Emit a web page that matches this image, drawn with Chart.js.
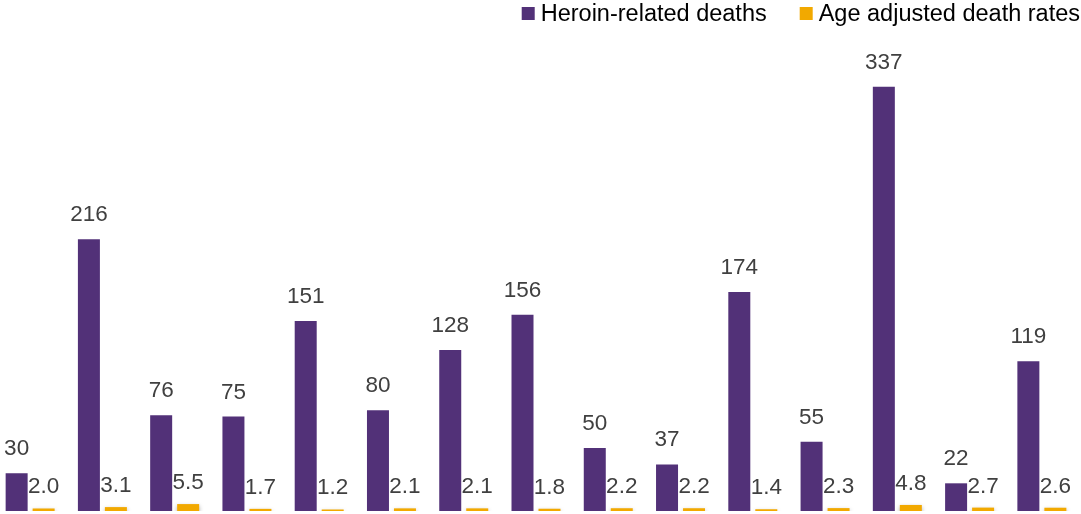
<!DOCTYPE html>
<html>
<head>
<meta charset="utf-8">
<script src="https://cdn.jsdelivr.net/npm/chart.js@4/dist/chart.umd.min.js"></script>
<style>
  html, body { margin: 0; padding: 0; background: #fff; overflow: hidden; }
  #wrap { position: absolute; left: -6px; top: 0; width: 1087px; height: 514px; }
</style>
</head>
<body>
<div id="wrap"><canvas id="chart"></canvas></div>
<script>
// One slot per county / region
const categories = ['', '', '', '', '', '', '', '', '', '', '', '', '', '', ''];
const heroinDeaths = [30, 216, 76, 75, 151, 80, 128, 156, 50, 37, 174, 55, 337, 22, 119];
const deathRates = [2.0, 3.1, 5.5, 1.7, 1.2, 2.1, 2.1, 1.8, 2.2, 2.2, 1.4, 2.3, 4.8, 2.7, 2.6];

const PURPLE = '#523178';
const GOLD = '#F2A900';
const LABEL = '#404040';
const FONT = '"Liberation Sans", Arial, sans-serif';

// Value labels above every bar
const valueLabels = {
  id: 'valueLabels',
  afterDatasetsDraw(chart) {
    const ctx = chart.ctx;
    ctx.save();
    ctx.font = '22.5px ' + FONT;
    ctx.fillStyle = LABEL;
    ctx.textAlign = 'center';
    ctx.textBaseline = 'alphabetic';
    chart.data.datasets.forEach((ds, di) => {
      const meta = chart.getDatasetMeta(di);
      meta.data.forEach((bar, i) => {
        const v = ds.data[i];
        const txt = di === 1 ? v.toFixed(1) : String(v);
        const gap = di === 1 ? 15 : 18;
        ctx.fillText(txt, bar.x, bar.y - gap);
      });
    });
    ctx.restore();
  }
};

// Legend in the top right corner: square swatch followed by the series name
const cornerLegend = {
  id: 'cornerLegend',
  afterDraw(chart) {
    const ctx = chart.ctx;
    ctx.save();
    ctx.font = '23.5px ' + FONT;
    ctx.textBaseline = 'alphabetic';
    ctx.textAlign = 'left';
    const right = chart.width - 1;
    const box = 13, boxGap = 6, itemGap = 33, baseline = 21, boxTop = 7;
    const items = chart.data.datasets.map(ds => ({
      text: ds.label, color: ds.backgroundColor, w: ctx.measureText(ds.label).width
    }));
    let total = 0;
    items.forEach((it, i) => { total += box + boxGap + it.w + (i ? itemGap : 0); });
    let x = right - total;
    items.forEach((it, i) => {
      if (i) x += itemGap;
      ctx.fillStyle = it.color;
      ctx.fillRect(x, boxTop, box, box);
      x += box + boxGap;
      ctx.fillStyle = '#000';
      ctx.fillText(it.text, x, baseline);
      x += it.w;
    });
    ctx.restore();
  }
};

// Soft drop shadow under the rate bars
const rateShadow = {
  id: 'rateShadow',
  beforeDatasetDraw(chart, args) {
    if (args.index === 1) {
      const ctx = chart.ctx;
      ctx.save();
      ctx.shadowColor = 'rgba(0,0,0,0.35)';
      ctx.shadowBlur = 4;
      ctx.shadowOffsetY = 2;
    }
  },
  afterDatasetDraw(chart, args) {
    if (args.index === 1) chart.ctx.restore();
  }
};

new Chart(document.getElementById('chart'), {
  type: 'bar',
  data: {
    labels: categories,
    datasets: [
      {
        label: 'Heroin-related deaths',
        data: heroinDeaths,
        backgroundColor: PURPLE,
        categoryPercentage: 0.747,
        barPercentage: 0.815
      },
      {
        label: 'Age adjusted death rates',
        data: deathRates,
        backgroundColor: GOLD,
        categoryPercentage: 0.747,
        barPercentage: 0.815
      }
    ]
  },
  options: {
    responsive: true,
    maintainAspectRatio: false,
    animation: false,
    layout: { padding: { left: 0, right: 3, top: 0, bottom: 3 } },
    plugins: {
      legend: { display: false },
      tooltip: { enabled: false }
    },
    scales: {
      x: { display: false, grid: { display: false } },
      y: { display: false, min: 0, max: 406, grid: { display: false } }
    }
  },
  plugins: [rateShadow, valueLabels, cornerLegend]
});
</script>
</body>
</html>
